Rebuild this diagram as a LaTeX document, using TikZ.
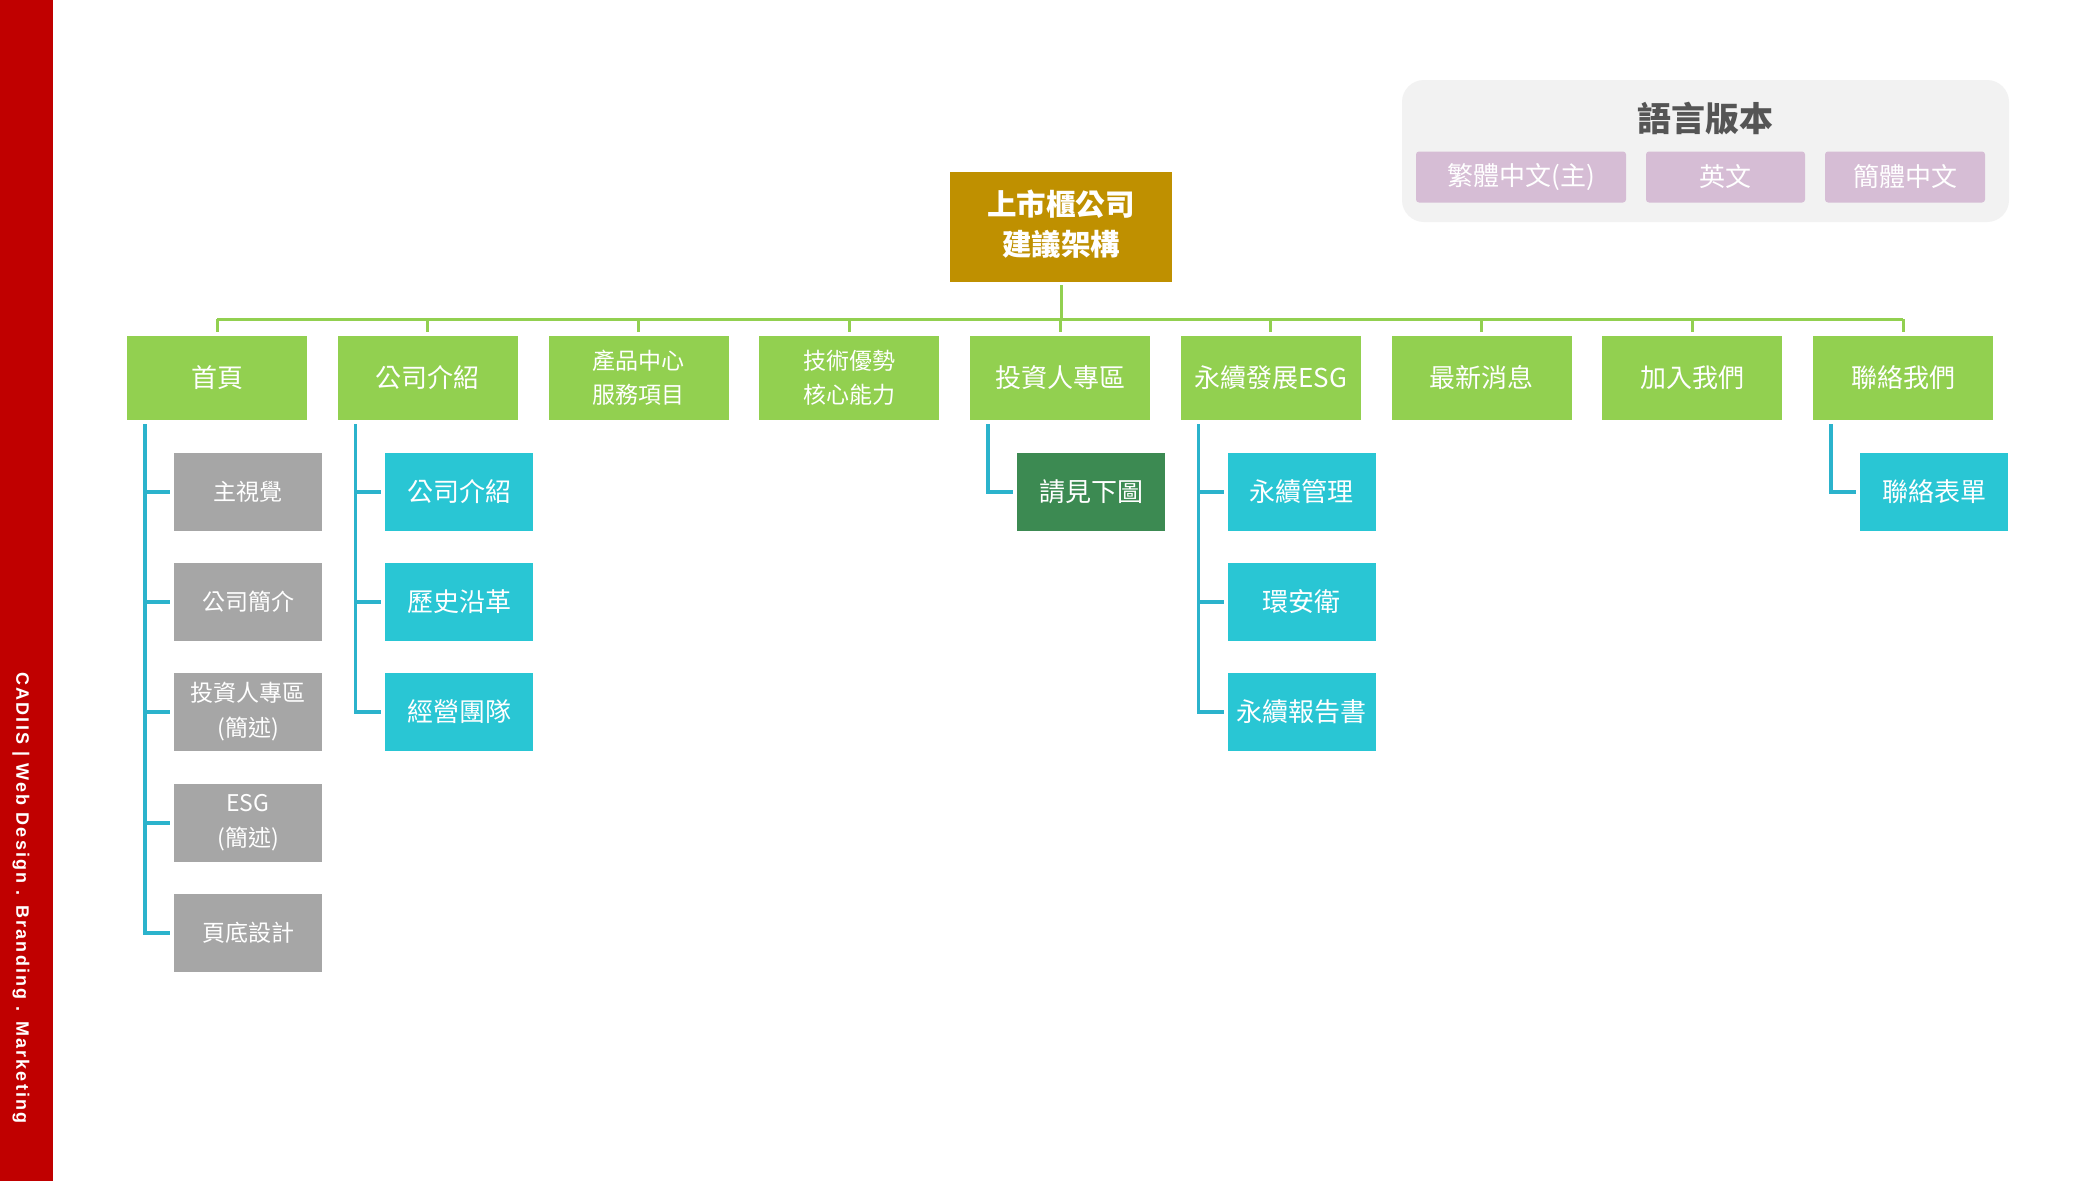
\documentclass[tikz,border=0pt]{standalone}
\usepackage{fontspec}
\setmainfont{Noto Sans CJK TC}
\newfontfamily\barfont{Liberation Sans}[LetterSpace=12]
\definecolor{barred}{HTML}{C00000}
\definecolor{gold}{HTML}{BF9000}
\definecolor{lgreen}{HTML}{92D050}
\definecolor{cyanbox}{HTML}{29C6D4}
\definecolor{cyanline}{HTML}{2BB3CC}
\definecolor{dgreen}{HTML}{3C8A52}
\definecolor{greybox}{HTML}{A6A6A6}
\definecolor{langbg}{HTML}{F2F2F2}
\definecolor{mauve}{HTML}{D6BDD5}
\definecolor{titlegrey}{HTML}{555555}
\begin{document}
\begin{tikzpicture}[x=1pt,y=-1pt,
  base/.style={inner sep=0pt, outer sep=0pt, text=white, align=center},
  topbox/.style={base, fill=gold, minimum width=222pt, minimum height=110pt},
  toptext/.style={base, font=\fontsize{29.5}{40}\selectfont\bfseries},
  lone/.style={base, fill=lgreen, minimum width=180pt, minimum height=84pt,
    font=\fontsize{26}{30}\selectfont},
  ltwo/.style={lone, font=\fontsize{23}{34}\selectfont},
  gbox/.style={base, fill=greybox, minimum width=148pt, minimum height=78pt,
    font=\fontsize{23}{35}\selectfont},
  cbox/.style={base, fill=cyanbox, minimum width=148pt, minimum height=78pt,
    font=\fontsize{26}{30}\selectfont},
  dbox/.style={cbox, fill=dgreen},
  lbox/.style={base, fill=mauve, rounded corners=3pt, minimum height=51pt,
    font=\fontsize{26}{30}\selectfont},
  gline/.style={draw=lgreen, line width=3pt},
  bline/.style={draw=cyanline, line width=3.2pt}
]
\fill[white] (0,0) rectangle (2100,1181);
\useasboundingbox (0,0) rectangle (2100,1181);
% side bar
\fill[barred] (0,0) rectangle (53,1181);
\node[rotate=-90, text=white, inner sep=0pt, font=\barfont\fontsize{18}{20}\selectfont\bfseries] (bar) at (21,898) {CADIIS | Web Design . Branding . Marketing};

% language box
\node[fill=langbg, rounded corners=22pt, minimum width=607pt, minimum height=142pt, inner sep=0pt] (lang) at (1705.5,151) {};
\node[inner sep=0pt, text=titlegrey, font=\fontsize{34}{38}\selectfont\bfseries] (langt) at (1705,119) {語言版本};
\node[lbox, minimum width=210pt] (la1) at (1521,177) {繁體中文(主)};
\node[lbox, minimum width=159pt] (la2) at (1725.5,177) {英文};
\node[lbox, minimum width=160pt] (la3) at (1905,177) {簡體中文};

% top
\node[topbox] (top) at (1061,227) {};
\node[toptext] (toptxt) at (1061,224) {上市櫃公司\\建議架構};

% level 1
\node[lone] (n1) at (217,378) {首頁};
\node[lone] (n2) at (427.75,378) {公司介紹};
\node[ltwo] (n3) at (638.5,378) {產品中心\\服務項目};
\node[ltwo] (n4) at (849.25,378) {技術優勢\\核心能力};
\node[lone] (n5) at (1060,378) {投資人專區};
\node[lone] (n6) at (1270.75,378) {永續發展ESG};
\node[lone] (n7) at (1481.5,378) {最新消息};
\node[lone] (n8) at (1692.25,378) {加入我們};
\node[lone] (n9) at (1903,378) {聯絡我們};

% children
\node[gbox] (c11) at (248,492) {主視覺};
\node[gbox] (c12) at (248,602) {公司簡介};
\node[gbox] (c13) at (248,712) {投資人專區\\(簡述)};
\node[gbox] (c14) at (248,823) {ESG\\(簡述)};
\node[gbox] (c15) at (248,933) {頁底設計};

\node[cbox] (c21) at (459,492) {公司介紹};
\node[cbox] (c22) at (459,602) {歷史沿革};
\node[cbox] (c23) at (459,712) {經營團隊};

\node[dbox] (c51) at (1091,492) {請見下圖};

\node[cbox] (c61) at (1301.5,492) {永續管理};
\node[cbox] (c62) at (1301.5,602) {環安衛};
\node[cbox] (c63) at (1301.5,712) {永續報告書};

\node[cbox] (c91) at (1934,492) {聯絡表單};

% green bus
\coordinate (busy) at (0,319);
\draw[gline] ([yshift=-3pt]top.south) -- (top.south |- busy);
\draw[gline, line cap=square] (n1.north |- busy) -- (n9.north |- busy);
\foreach \i in {1,...,9} {
  \draw[gline] (n\i.north |- busy) -- ([yshift=4pt]n\i.north);
}

% child connectors
\foreach \p/\cl in {n1/{c11,c12,c13,c14,c15}, n2/{c21,c22,c23}, n5/{c51}, n6/{c61,c62,c63}, n9/{c91}} {
  \coordinate (t-\p) at ([xshift=18pt,yshift=-4pt]\p.south west);
  \foreach \c in \cl {
    \draw[bline] (t-\p) |- ([xshift=-4pt]\c.west);
  }
}
\end{tikzpicture}
\end{document}
